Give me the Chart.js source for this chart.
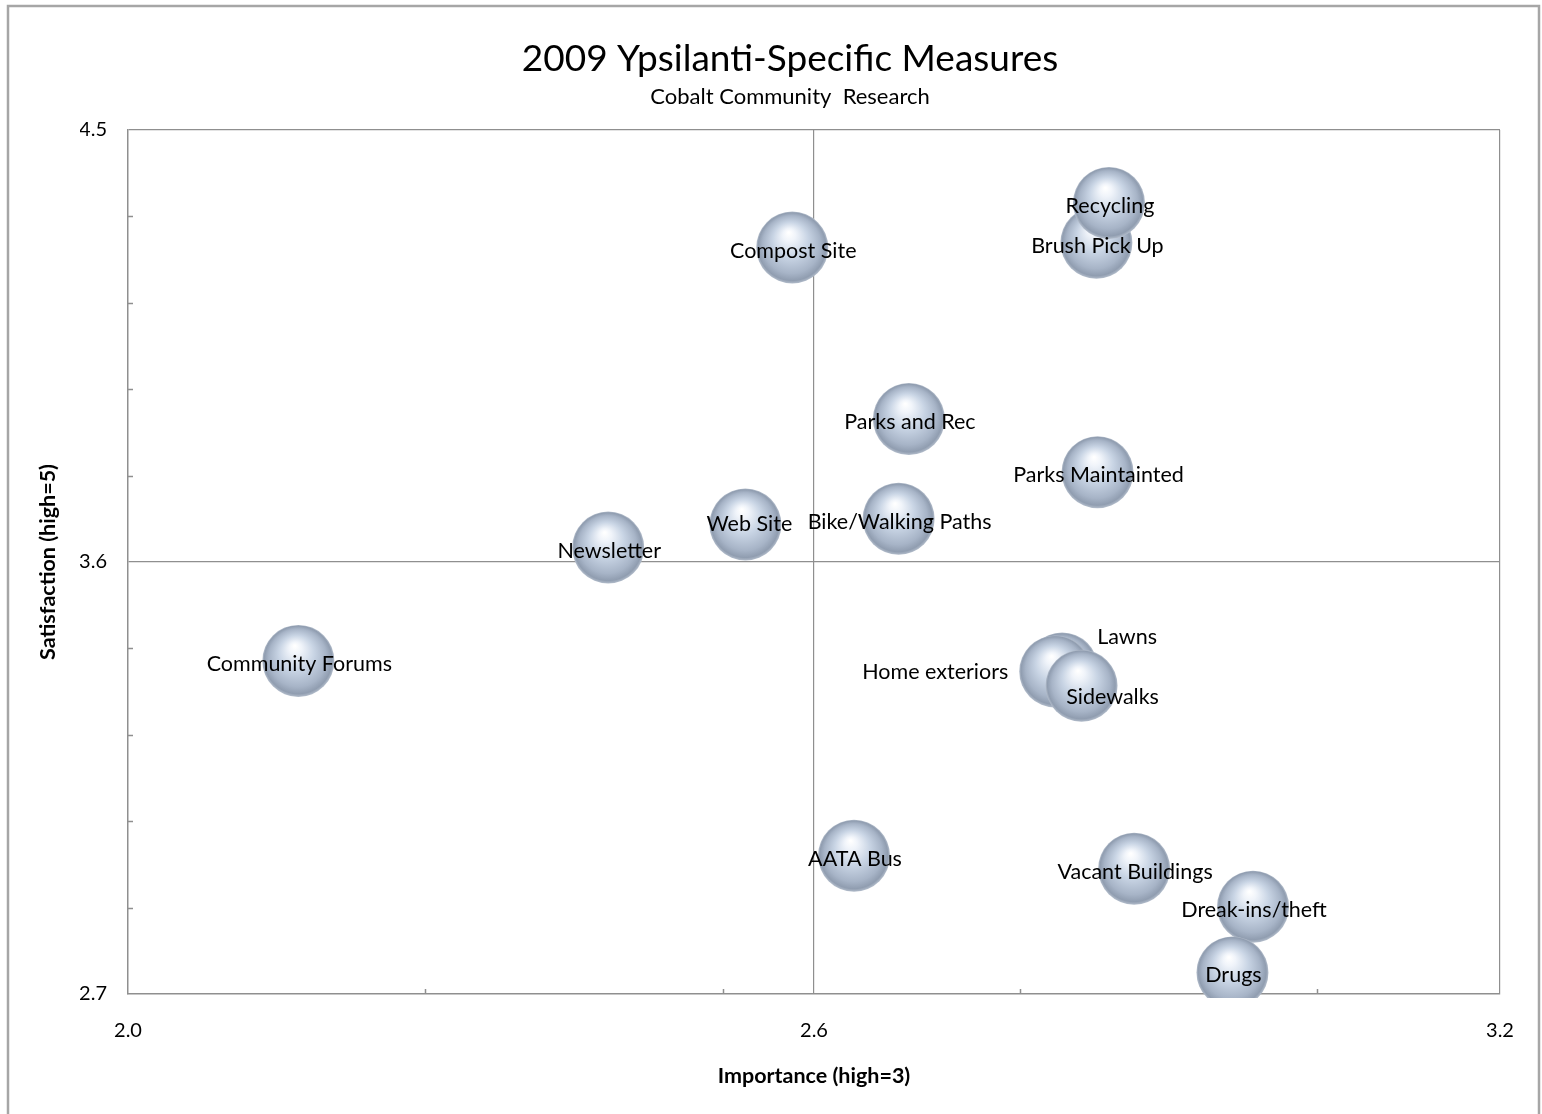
<!DOCTYPE html>
<html>
<head>
<meta charset="utf-8">
<title>2009 Ypsilanti-Specific Measures</title>
<script src="https://cdn.jsdelivr.net/npm/chart.js@4/dist/chart.umd.min.js"></script>
<style>
  html, body { margin: 0; padding: 0; background: #ffffff; }
  #wrap { position: relative; width: 1542px; height: 1114px; }
</style>
</head>
<body>
<div id="wrap"><canvas id="chart"></canvas></div>
<script>
// Survey measures: importance (x) against satisfaction (y)
const measures = [
  'Community Forums', 'Newsletter', 'Web Site', 'Compost Site', 'Parks and Rec',
  'Bike/Walking Paths', 'AATA Bus', 'Brush Pick Up', 'Recycling', 'Parks Maintainted',
  'Lawns', 'Home exteriors', 'Sidewalks', 'Vacant Buildings', 'Dreak-ins/theft', 'Drugs'
];
const importance = [
  2.149, 2.420, 2.540, 2.581, 2.683,
  2.674, 2.635, 2.847, 2.858, 2.848,
  2.817, 2.811, 2.834, 2.880, 2.984, 2.966
];
const satisfaction = [
  3.394, 3.630, 3.678, 4.255, 3.898,
  3.690, 2.988, 4.265, 4.348, 3.787,
  3.378, 3.372, 3.342, 2.961, 2.882, 2.745
];

// Axis ticks: labelled values and the short unlabelled marks between them
const xLabelValues = [2.0, 2.6, 3.2];
const xMarkValues = [2.26, 2.52, 2.78, 3.04];
const yLabelValues = [2.7, 3.6, 4.5];
const yMarkValues = [2.88, 3.06, 3.24, 3.42, 3.78, 3.96, 4.14, 4.32];

const FONT = 'Lato, "Open Sans", sans-serif';
const AXIS_GREY = '#8f8f8f';
const bubbleRadius = 36;

// Label offsets (px) for measures whose labels sit beside their bubble
const labelShift = {
  'Lawns': [65, -31],
  'Home exteriors': [-120, 1],
  'Sidewalks': [31, 11],
  'Web Site': [4, 0]
};

// Shaded sphere fill centred on each bubble
function sphereFill(ctx) {
  const chart = ctx.chart;
  if (ctx.type !== 'data' || !chart.chartArea || !ctx.raw) return '#b9c7da';
  const x = chart.scales.x.getPixelForValue(ctx.raw.x);
  const y = chart.scales.y.getPixelForValue(ctx.raw.y);
  const r = bubbleRadius;
  const g = chart.ctx.createRadialGradient(x - r * 0.1, y - r * 0.42, r * 0.02, x, y, r);
  g.addColorStop(0.0, '#ffffff');
  g.addColorStop(0.16, '#f0f4fa');
  g.addColorStop(0.48, '#c8d4e4');
  g.addColorStop(0.8, '#a7b4c7');
  g.addColorStop(0.94, '#909db0');
  g.addColorStop(1.0, '#b3bdcb');
  return g;
}

// Outer frame around the whole chart
const framePlugin = {
  id: 'frame',
  beforeDraw(chart) {
    const c = chart.ctx;
    c.save();
    c.strokeStyle = '#a6a6a6';
    c.lineWidth = 2.5;
    c.strokeRect(8, 6, 1531, 1114);
    c.restore();
  }
};

// Short inward tick marks on the bottom and left axes
const innerTicksPlugin = {
  id: 'innerTicks',
  beforeDatasetsDraw(chart) {
    const {ctx: c, chartArea: a, scales: {x, y}} = chart;
    c.save();
    c.strokeStyle = AXIS_GREY;
    c.lineWidth = 1.5;
    c.beginPath();
    xMarkValues.forEach(v => {
      const px = Math.round(x.getPixelForValue(v)) + 0.5;
      c.moveTo(px, a.bottom);
      c.lineTo(px, a.bottom - 5);
    });
    yMarkValues.forEach(v => {
      const py = Math.round(y.getPixelForValue(v)) + 0.5;
      c.moveTo(a.left, py);
      c.lineTo(a.left + 5, py);
    });
    c.stroke();
    c.restore();
  }
};

// Measure names written over the bubbles
const bubbleLabelsPlugin = {
  id: 'bubbleLabels',
  afterDatasetsDraw(chart) {
    const c = chart.ctx;
    const meta = chart.getDatasetMeta(0);
    c.save();
    c.font = '21.5px ' + FONT;
    c.fillStyle = '#000000';
    c.textAlign = 'center';
    c.textBaseline = 'middle';
    meta.data.forEach((el, i) => {
      const name = measures[i];
      const s = labelShift[name] || [1, 3];
      c.fillText(name, el.x + s[0], el.y + s[1]);
    });
    c.restore();
  }
};

const points = measures.map((m, i) => ({x: importance[i], y: satisfaction[i]}));

new Chart(document.getElementById('chart'), {
  type: 'bubble',
  data: {
    datasets: [{
      label: 'Measures',
      data: points,
      radius: bubbleRadius,
      backgroundColor: sphereFill,
      borderWidth: 0,
      hoverRadius: 0,
      clip: {left: false, top: false, right: false, bottom: 4}
    }]
  },
  options: {
    responsive: true,
    maintainAspectRatio: false,
    animation: false,
    devicePixelRatio: 1,
    events: [],
    layout: {padding: {left: 80, right: 42, top: 0, bottom: 0}},
    plugins: {
      legend: {display: false},
      tooltip: {enabled: false},
      title: {
        display: true,
        text: '2009 Ypsilanti-Specific Measures',
        color: '#000000',
        font: {family: FONT, size: 37, weight: 'normal', lineHeight: 1.2},
        padding: {top: 37, bottom: 0}
      },
      subtitle: {
        display: true,
        text: 'Cobalt Community  Research',
        color: '#000000',
        font: {family: FONT, size: 22, weight: 'normal', lineHeight: 1.2},
        padding: {top: 2, bottom: 20.2}
      }
    },
    scales: {
      x: {
        type: 'linear',
        position: 'bottom',
        min: 2.0,
        max: 3.2,
        afterBuildTicks(scale) { scale.ticks = xLabelValues.map(v => ({value: v})); },
        afterFit(scale) { scale.height = 120; },
        ticks: {
          autoSkip: false,
          maxRotation: 0,
          padding: 25,
          color: '#000000',
          font: {family: FONT, size: 20},
          callback: v => Number(v).toFixed(1)
        },
        grid: {
          drawTicks: false,
          lineWidth: 1.2,
          color: ctx => (ctx.tick && (ctx.tick.value === 2.6 || ctx.tick.value === 3.2)) ? AXIS_GREY : 'rgba(0,0,0,0)'
        },
        border: {display: true, color: AXIS_GREY, width: 1.5},
        title: {
          display: true,
          text: 'Importance (high=3)',
          color: '#000000',
          font: {family: FONT, size: 21.5, weight: 'bold', lineHeight: 1.2},
          padding: {top: 0, bottom: 25}
        }
      },
      y: {
        type: 'linear',
        position: 'left',
        min: 2.7,
        max: 4.5,
        afterBuildTicks(scale) { scale.ticks = yLabelValues.map(v => ({value: v})); },
        afterFit(scale) { scale.width = 48; },
        ticks: {
          autoSkip: false,
          padding: 21,
          color: '#000000',
          font: {family: FONT, size: 20},
          callback: v => Number(v).toFixed(1)
        },
        grid: {
          drawTicks: false,
          lineWidth: 1.2,
          color: ctx => (ctx.tick && (ctx.tick.value === 3.6 || ctx.tick.value === 4.5)) ? AXIS_GREY : 'rgba(0,0,0,0)'
        },
        border: {display: true, color: AXIS_GREY, width: 1.5},
        title: {
          display: true,
          text: 'Satisfaction (high=5)',
          color: '#000000',
          font: {family: FONT, size: 21.5, weight: 'bold', lineHeight: 1.2},
          padding: {top: -45, bottom: 0}
        }
      }
    }
  },
  plugins: [framePlugin, innerTicksPlugin, bubbleLabelsPlugin]
});
</script>
</body>
</html>
